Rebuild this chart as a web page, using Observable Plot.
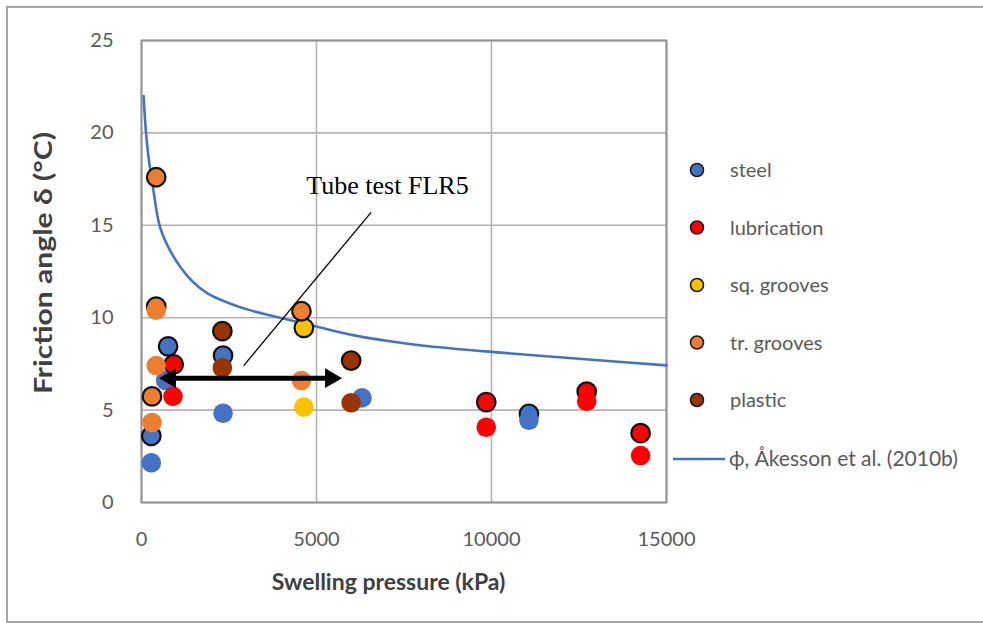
<!DOCTYPE html>
<html>
<head>
<meta charset="utf-8">
<script src="https://cdn.jsdelivr.net/npm/d3@7"></script>
<script src="https://cdn.jsdelivr.net/npm/@observablehq/plot@0.6"></script>
<style>
  html, body { margin: 0; padding: 0; background: #fff; }
  #chart { position: relative; width: 983px; height: 623px; }
  #chart svg { display: block; }
</style>
</head>
<body>
<div id="chart"></div>
<script>
// Interface materials, in drawing order, with their colours
const materials = ["steel", "lubrication", "sq. grooves", "tr. grooves", "plastic"];
const materialColors = ["#4472C4", "#FF0000", "#FFC000", "#ED7D31", "#993300"];

// [swelling pressure (kPa), friction angle] — ringed markers and plain markers
const steelRinged = [[280, 3.6], [760, 8.45], [2330, 7.95], [11070, 4.8]];
const steelPlain = [[280, 2.15], [690, 6.6], [2330, 4.83], [6300, 5.66], [11070, 4.45]];
const lubricationRinged = [[920, 7.47], [9850, 5.43], [12720, 6.0], [14260, 3.75]];
const lubricationPlain = [[900, 5.74], [9850, 4.07], [12720, 5.48], [14260, 2.54]];
const sqGroovesRinged = [[4640, 9.45]];
const sqGroovesPlain = [[4640, 5.16]];
const trGroovesRinged = [[420, 17.6], [420, 10.6], [300, 5.74], [4570, 10.35]];
const trGroovesPlain = [[420, 10.4], [420, 7.41], [300, 4.33], [4570, 6.6]];
const plasticRinged = [[2310, 9.27], [5990, 7.68]];
const plasticPlain = [[2310, 7.29], [5990, 5.4]];

// ϕ after Åkesson et al. (2010b)
const phiPressure = [60, 125, 200, 340, 530, 870, 1340, 1900, 2770, 3720, 4400, 5000, 6000, 7000, 8000, 10000, 12500, 15000];
const phiAngle = [22.0, 20.1, 18.7, 16.9, 14.9, 13.45, 12.2, 11.3, 10.6, 10.1, 9.8, 9.52, 9.07, 8.75, 8.5, 8.15, 7.78, 7.42];

// Axis ticks
const xTicks = [0, 5000, 10000, 15000];
const yTicks = [0, 5, 10, 15, 20, 25];

// Annotation: pressure span of the tube test and its label
const tubeSpan = {from: 500, to: 5730, angle: 6.73};
const tubeLabel = {text: "Tube test FLR5", pressure: 4710, angle: 17.15};
const tubeLeader = {pressure1: 2920, angle1: 7.41, pressure2: 6560, angle2: 15.7};

const xTitle = "Swelling pressure (kPa)";
const yTitle = "Friction angle δ (°C)";
const legendLine = "ϕ, Åkesson et al. (2010b)";

const seriesRinged = [steelRinged, lubricationRinged, sqGroovesRinged, trGroovesRinged, plasticRinged];
const seriesPlain = [steelPlain, lubricationPlain, sqGroovesPlain, trGroovesPlain, plasticPlain];
const toRows = arr => arr.map(([p, a]) => ({pressure: p, angle: a}));
const phi = phiPressure.map((p, i) => ({pressure: p, angle: phiAngle[i]}));

const font = "Lato, 'Open Sans', sans-serif";

// Per material: ringed markers first, then the plain ones on top
const dotMarks = materials.flatMap((m, i) => [
  Plot.dot(toRows(seriesRinged[i]), {x: "pressure", y: "angle", r: 9.3, fill: materialColors[i], stroke: "#111", strokeWidth: 2.2}),
  Plot.dot(toRows(seriesPlain[i]), {x: "pressure", y: "angle", r: 9.8, fill: materialColors[i], stroke: "none"})
]);

const span = [tubeSpan];

const plot = Plot.plot({
  width: 983,
  height: 623,
  marginLeft: 141,
  marginRight: 317,
  marginTop: 40,
  marginBottom: 121,
  style: {fontFamily: font, background: "transparent", overflow: "visible"},
  x: {domain: [0, 15000]},
  y: {domain: [0, 25]},
  marks: [
    Plot.gridX(xTicks, {stroke: "#b4b4b4", strokeOpacity: 1, strokeWidth: 1.6}),
    Plot.gridY(yTicks, {stroke: "#b4b4b4", strokeOpacity: 1, strokeWidth: 1.6}),
    Plot.frame({stroke: "#939393", strokeWidth: 2}),
    Plot.axisX(xTicks, {tickSize: 0, tickPadding: 29, fontSize: 20, fill: "#595959", tickFormat: d => String(d), label: null}),
    Plot.axisY(yTicks, {tickSize: 0, tickPadding: 28, fontSize: 20, fill: "#595959", tickFormat: d => String(d), label: null}),
    Plot.line(phi, {x: "pressure", y: "angle", stroke: "#4472C4", strokeWidth: 2.6, curve: "catmull-rom"}),
    ...dotMarks,
    Plot.link([tubeLeader], {x1: "pressure1", y1: "angle1", x2: "pressure2", y2: "angle2", stroke: "#000", strokeWidth: 1.3}),
    // double-headed span arrow: thick shaft plus two filled heads
    Plot.arrow(span, {x1: "from", x2: "to", y1: "angle", y2: "angle", stroke: "#000", strokeWidth: 5,
      headLength: 0, insetStart: 10, insetEnd: 10}),
    Plot.dot(span, {x: "to", y: "angle", symbol: "triangle", r: 7.3, rotate: 90, dx: -11.3, fill: "#000", stroke: "none"}),
    Plot.dot(span, {x: "from", y: "angle", symbol: "triangle", r: 7.3, rotate: -90, dx: 11.3, fill: "#000", stroke: "none"}),
    Plot.text([tubeLabel], {x: "pressure", y: "angle", text: "text", textAnchor: "start", lineAnchor: "middle",
      fontFamily: "'Liberation Serif', 'Times New Roman', serif", fontSize: 26, fill: "#000"})
  ]
});

document.getElementById("chart").appendChild(plot);

const svg = d3.select(plot);

// Outer border of the figure
svg.insert("rect", ":first-child")
  .attr("x", 7).attr("y", 7).attr("width", 1000).attr("height", 615)
  .attr("fill", "#fff").attr("stroke", "#a6a6a6").attr("stroke-width", 2);

// Axis titles
const sx = plot.scale("x"), sy = plot.scale("y");
const xMid = (sx.range[0] + sx.range[1]) / 2;
const yMid = (sy.range[0] + sy.range[1]) / 2;
svg.append("text")
  .attr("x", xMid - 15).attr("y", sy.range[0] + 80).attr("dy", "0.35em")
  .attr("text-anchor", "middle").attr("font-family", font).attr("font-weight", "bold")
  .attr("font-size", 23).attr("fill", "#404040").text(xTitle);
svg.append("text")
  .attr("transform", `translate(${sx.range[0] - 97},${yMid - 8}) rotate(-90)`).attr("dy", "0.35em")
  .attr("text-anchor", "middle").attr("font-family", font).attr("font-weight", "bold")
  .attr("font-size", 24).attr("textLength", 262).attr("lengthAdjust", "spacingAndGlyphs")
  .attr("fill", "#404040").text(yTitle);

// Legend in the right margin
const legend = svg.append("g").attr("font-family", font).attr("font-size", 20)
  .attr("fill", "#595959").attr("text-anchor", "start");
materials.forEach((m, i) => {
  const y = 170 + i * 57.5;
  legend.append("circle").attr("cx", 697).attr("cy", y).attr("r", 6.5)
    .attr("fill", materialColors[i]).attr("stroke", "#1a1a1a").attr("stroke-width", 1.6);
  legend.append("text").attr("x", 730).attr("y", y).attr("dy", "0.35em").text(m);
});
legend.append("line").attr("x1", 673).attr("x2", 725).attr("y1", 459).attr("y2", 459)
  .attr("stroke", "#4472C4").attr("stroke-width", 2.6);
legend.append("text").attr("x", 729).attr("y", 459).attr("dy", "0.35em").attr("font-size", 21).text(legendLine);
</script>
</body>
</html>
